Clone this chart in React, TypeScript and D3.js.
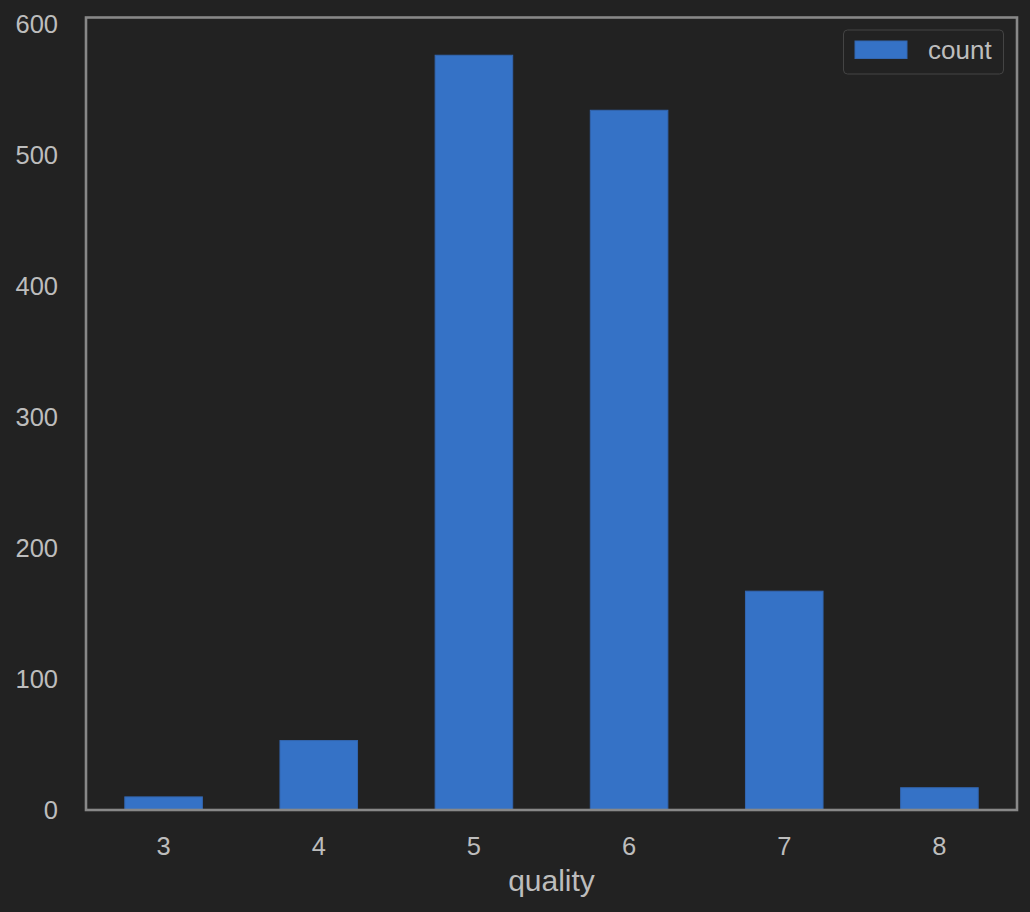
import React from "react";
import * as d3 from "d3";

const categories = ["3", "4", "5", "6", "7", "8"];
const counts = [10, 53, 576, 534, 167, 17];
const yTicks = [0, 100, 200, 300, 400, 500, 600];
const seriesName = "count";
const xLabel = "quality";

export default function App() {
  const W = 1030, H = 912;
  const left = 86, right = 1017, top = 17.5, bottom = 810;
  const x = d3.scaleBand<string>().domain(categories).range([left, right]).paddingInner(0.5).paddingOuter(0.25);
  const y = d3.scaleLinear().domain([0, d3.max(counts)! * 1.05]).range([bottom, top]);
  const font = "Liberation Sans, Arial, Helvetica, sans-serif";
  const textColor = "#bdbdbd";
  return (
    <div style={{ position: "absolute", left: 0, top: 0 }}>
      <svg width={W} height={H} style={{ display: "block", background: "#222222" }}>
        <rect x={0} y={0} width={W} height={H} fill="#222222" />
        {categories.map((c, i) => (
          <rect key={c} x={x(c)!} y={y(counts[i])} width={x.bandwidth()} height={y(0) - y(counts[i])}
            fill="#3572c6" stroke="#3366b0" strokeWidth={1} />
        ))}
        <rect x={left} y={top} width={right - left} height={bottom - top} fill="none" stroke="#888888" strokeWidth={2.6} />
        {yTicks.map(t => (
          <text key={t} x={58} y={y(t)} dy="0.35em" textAnchor="end" fontFamily={font} fontSize={25.5} fill={textColor}>{t}</text>
        ))}
        {categories.map(c => (
          <text key={c} x={x(c)! + x.bandwidth() / 2} y={846} dy="0.35em" textAnchor="middle" fontFamily={font} fontSize={25.5} fill={textColor}>{c}</text>
        ))}
        <text x={(left + right) / 2} y={880} dy="0.35em" textAnchor="middle" fontFamily={font} fontSize={30} fill={textColor}>{xLabel}</text>
        <g>
          <rect x={843.5} y={30} width={160} height={44} rx={4} fill="#222222" stroke="#444444" strokeWidth={1} />
          <rect x={855} y={41} width={52} height={17.5} fill="#3572c6" stroke="#3366b0" strokeWidth={1} />
          <text x={928} y={50} dy="0.35em" fontFamily={font} fontSize={26} fill={textColor}>{seriesName}</text>
        </g>
      </svg>
    </div>
  );
}
